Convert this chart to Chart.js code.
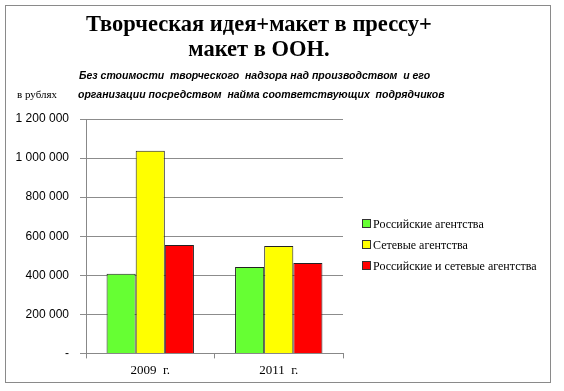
<!DOCTYPE html>
<html>
<head>
<meta charset="utf-8">
<script src="https://cdn.jsdelivr.net/npm/chart.js@4/dist/chart.umd.min.js"></script>
<style>
  html, body { margin: 0; padding: 0; background: #fff; }
  #wrap { position: relative; width: 564px; height: 391px; overflow: hidden; }
  #frame { position: absolute; left: 5px; top: 5px; width: 546px; height: 378px; border: 1px solid #8a8a8a; box-sizing: border-box; }
  #chart { position: absolute; left: 0; top: 0; }
  .title { position: absolute; left: 0; width: 518px; text-align: center; font-family: "Liberation Serif", serif; font-weight: bold; font-size: 22.5px; line-height: 26px; color: #000; }
  .note { position: absolute; font-family: "Liberation Sans", Arial, sans-serif; font-weight: bold; font-style: italic; font-size: 10.5px; color: #000; white-space: nowrap; }
  #unit { position: absolute; left: 17px; top: 88px; font-family: "Liberation Serif", serif; font-size: 11px; color: #000; }
  #legend { position: absolute; left: 362px; top: 216px; font-family: "Liberation Serif", serif; font-size: 12px; color: #000; }
  #legend div { height: 21px; line-height: 16px; white-space: nowrap; }
  #legend span { display: inline-block; width: 7px; height: 7px; border: 1px solid #333; margin-right: 2px; vertical-align: 0px; }
</style>
</head>
<body>
<div id="wrap">
  <canvas id="chart" width="564" height="391"></canvas>
  <div id="frame"></div>
  <div class="title" style="top:11px;">Творческая идея+макет в прессу+</div>
  <div class="title" style="top:36px;">макет в ООН.</div>
  <div class="note" style="left:79px; top:69px;">Без стоимости&nbsp; творческого&nbsp; надзора над производством&nbsp; и его</div>
  <div class="note" style="left:78px; top:88px;">организации посредством&nbsp; найма соответствующих&nbsp; подрядчиков</div>
  <div id="unit">в рублях</div>
  <div id="legend"></div>
</div>
<script>
// categories and series
const years = ['2009  г.', '2011  г.'];
const seriesNames = ['Российские  агентства', 'Сетевые  агентства', 'Российские  и сетевые агентства'];
const russianAgencies = [408000, 442000];
const networkAgencies = [1037000, 550000];
const mixedAgencies = [555000, 463000];
const colors = ['#66ff33', '#ffff00', '#ff0000'];
const yTicks = [0, 200000, 400000, 600000, 800000, 1000000, 1200000];

function fmt(v) {
  if (v === 0) return '-';
  return String(v).replace(/\B(?=(\d{3})+(?!\d))/g, ' ');
}

const values = [russianAgencies, networkAgencies, mixedAgencies];

new Chart(document.getElementById('chart'), {
  type: 'bar',
  data: {
    labels: years,
    datasets: seriesNames.map((name, i) => ({
      label: name,
      data: values[i],
      backgroundColor: colors[i],
      borderColor: '#222',
      borderWidth: 1,
      borderSkipped: 'bottom',
      categoryPercentage: 0.68,
      barPercentage: 1
    }))
  },
  options: {
    responsive: false,
    animation: false,
    layout: { padding: { left: 0, top: 119, right: 221, bottom: 9 } },
    plugins: { legend: { display: false }, tooltip: { enabled: false } },
    scales: {
      x: {
        grid: { drawOnChartArea: false, drawTicks: true, tickLength: 5, color: '#888', offset: true },
        border: { color: '#888' },
        ticks: { color: '#000', font: { family: 'Liberation Serif', size: 13 }, padding: 4 }
      },
      y: {
        min: 0,
        max: 1200000,
        afterBuildTicks: axis => { axis.ticks = yTicks.map(v => ({ value: v })); },
        afterFit: axis => { axis.width = 86; },
        grid: { color: '#8c8c8c', lineWidth: 1, tickLength: 6 },
        border: { color: '#888' },
        ticks: { color: '#000', font: { family: 'Liberation Sans', size: 12 }, padding: 11, callback: v => fmt(v) }
      }
    }
  }
});

const legend = document.getElementById('legend');
seriesNames.forEach((name, i) => {
  const row = document.createElement('div');
  const box = document.createElement('span');
  box.style.background = colors[i];
  row.appendChild(box);
  row.appendChild(document.createTextNode(name));
  legend.appendChild(row);
});
</script>
</body>
</html>
